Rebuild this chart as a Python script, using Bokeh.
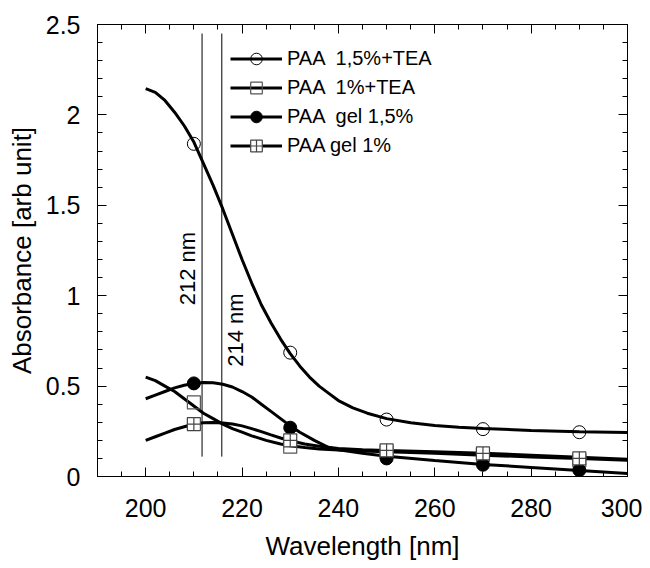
from bokeh.plotting import figure
from bokeh.models import (Range1d, LinearAxis, FixedTicker, CustomJSTickFormatter,
                          Legend, LegendItem)
from bokeh.core.properties import value
from bokeh.embed import file_html
from bokeh.resources import INLINE
import math

# ---- data ----
a_x = [200, 202, 204, 206, 208, 210, 212, 214, 216, 218, 220, 222, 224, 226, 228, 230,
       232, 234, 236, 238, 240, 243, 246, 250, 255, 260, 265, 270, 280, 290, 300]
a_y = [2.145, 2.125, 2.08, 2.015, 1.94, 1.85, 1.73, 1.61, 1.48, 1.34, 1.20, 1.07, 0.95,
       0.85, 0.76, 0.68, 0.61, 0.55, 0.50, 0.46, 0.42, 0.38, 0.35, 0.32, 0.297, 0.282,
       0.272, 0.265, 0.255, 0.248, 0.243]

b_x = [200, 202, 204, 206, 208, 210, 212, 214, 216, 218, 220, 222, 225, 228, 230, 233,
       236, 240, 245, 250, 260, 270, 280, 290, 300]
b_y = [0.55, 0.53, 0.50, 0.47, 0.43, 0.39, 0.35, 0.32, 0.29, 0.265, 0.245, 0.225, 0.20,
       0.18, 0.17, 0.16, 0.152, 0.146, 0.141, 0.137, 0.128, 0.118, 0.108, 0.099, 0.09]

c_x = [200, 202, 204, 206, 208, 210, 212, 214, 216, 218, 220, 222, 224, 226, 228, 230,
       232, 235, 238, 240, 245, 250, 260, 270, 280, 290, 300]
c_y = [0.43, 0.45, 0.47, 0.49, 0.505, 0.515, 0.52, 0.518, 0.51, 0.495, 0.47, 0.44, 0.40,
       0.36, 0.32, 0.28, 0.245, 0.20, 0.16, 0.148, 0.128, 0.112, 0.088, 0.067, 0.05,
       0.033, 0.017]

d_x = [200, 202, 204, 206, 208, 210, 212, 214, 216, 218, 220, 222, 224, 226, 228, 230,
       233, 236, 240, 245, 250, 260, 270, 280, 290, 300]
d_y = [0.20, 0.22, 0.24, 0.26, 0.275, 0.29, 0.297, 0.298, 0.296, 0.29, 0.28, 0.265, 0.248,
       0.23, 0.213, 0.198, 0.18, 0.167, 0.155, 0.148, 0.144, 0.137, 0.128, 0.118, 0.106,
       0.095]

m_x = [210, 230, 250, 270, 290]
a_m = [1.84, 0.685, 0.315, 0.262, 0.245]
b_m = [0.41, 0.165, 0.135, 0.12, 0.09]
c_m = [0.515, 0.27, 0.10, 0.065, 0.035]
d_m = [0.29, 0.20, 0.145, 0.128, 0.10]

labels = ["PAA  1,5%+TEA", "PAA  1%+TEA", "PAA  gel 1,5%", "PAA gel 1%"]

vline_x = [211.7, 215.8]
vline_y0 = [0.11, 0.11]
vline_y1 = [2.45, 2.45]
vtext = ["212 nm", "214 nm"]
vtext_x = [208.7, 218.6]
vtext_y = [1.15, 0.81]

x_major = [200, 220, 240, 260, 280, 300]
x_minor = [190, 195, 205, 210, 215, 225, 230, 235, 245, 250, 255, 265, 270, 275, 285, 290, 295]
y_major = [0, 0.5, 1.0, 1.5, 2.0, 2.5]
y_minor = [0.1, 0.2, 0.3, 0.4, 0.6, 0.7, 0.8, 0.9, 1.1, 1.2, 1.3, 1.4, 1.6, 1.7, 1.8, 1.9,
           2.1, 2.2, 2.3, 2.4]

FONT = "Liberation Sans"

p = figure(width=642, height=568, output_backend="svg", toolbar_location=None,
           x_range=Range1d(190, 300), y_range=Range1d(0, 2.5),
           min_border_left=97, min_border_right=15, min_border_top=24, min_border_bottom=92)
p.background_fill_color = "white"
p.border_fill_color = "white"
p.outline_line_color = "black"
p.outline_line_width = 1
p.xgrid.visible = False
p.ygrid.visible = False

fmt = CustomJSTickFormatter(code="return tick.toString();")
blank = CustomJSTickFormatter(code="return '';")
xt = FixedTicker(ticks=x_major, minor_ticks=x_minor)
yt = FixedTicker(ticks=y_major, minor_ticks=y_minor)

def style_axis(ax, show_labels):
    ax.major_tick_in = 9
    ax.major_tick_out = 0
    ax.minor_tick_in = 5
    ax.minor_tick_out = 0
    ax.axis_line_color = "black"
    ax.major_tick_line_color = "black"
    ax.minor_tick_line_color = "black"
    if show_labels:
        ax.formatter = fmt
        ax.major_label_text_font = FONT
        ax.major_label_text_font_size = "25px"
        ax.major_label_text_color = "black"
        ax.axis_label_text_font = FONT
        ax.axis_label_text_font_size = "26px"
        ax.axis_label_text_font_style = "normal"
        ax.axis_label_text_color = "black"
    else:
        ax.formatter = blank
        ax.major_label_standoff = 0

xa = p.xaxis[0]
xa.ticker = xt
xa.axis_label = "Wavelength [nm]"
style_axis(xa, True)
xa.major_label_standoff = 22
xa.axis_label_standoff = 11

ya = p.yaxis[0]
ya.ticker = yt
ya.axis_label = "Absorbance [arb unit]"
style_axis(ya, True)
ya.major_label_standoff = 17
ya.axis_label_standoff = 6

top = LinearAxis(ticker=xt)
style_axis(top, False)
p.add_layout(top, "above")
right = LinearAxis(ticker=yt)
style_axis(right, False)
p.add_layout(right, "right")

# vertical reference lines and labels
p.segment(x0=vline_x, y0=vline_y0, x1=vline_x, y1=vline_y1, line_color="black", line_width=1)
p.text(x=vtext_x, y=vtext_y, text=vtext, angle=math.pi / 2, text_align="center",
       text_baseline="middle", text_font=value(FONT), text_font_size="22px",
       text_color="black")

LW = 3
la = p.line(a_x, a_y, line_color="black", line_width=LW)
lb = p.line(b_x, b_y, line_color="black", line_width=LW)
lc = p.line(c_x, c_y, line_color="black", line_width=LW)
ld = p.line(d_x, d_y, line_color="black", line_width=LW)

sa = p.scatter(m_x, a_m, marker="circle", size=13, fill_color=None, line_color="black", line_width=1)
sb = p.scatter(m_x, b_m, marker="square", size=13, fill_color=None, line_color="#555555", line_width=1.2)
sc = p.scatter(m_x, c_m, marker="circle", size=13, fill_color="black", line_color="black", line_width=1)
sd = p.scatter(m_x, d_m, marker="square_cross", size=13, fill_color="white", line_color="#444444", line_width=1.2)

legend = Legend(items=[
    LegendItem(label=labels[0], renderers=[la, sa]),
    LegendItem(label=labels[1], renderers=[lb, sb]),
    LegendItem(label=labels[2], renderers=[lc, sc]),
    LegendItem(label=labels[3], renderers=[ld, sd]),
], location=(133, 316))
legend.border_line_color = None
legend.background_fill_alpha = 0
legend.padding = 0
legend.margin = 0
legend.spacing = 0
legend.glyph_width = 52
legend.glyph_height = 29
legend.label_height = 29
legend.label_standoff = 5
legend.label_text_font = FONT
legend.label_text_font_size = "20px"
legend.label_text_color = "black"
legend.label_text_baseline = "middle"
p.add_layout(legend, "center")

open("out.html", "w").write(file_html(p, INLINE))
